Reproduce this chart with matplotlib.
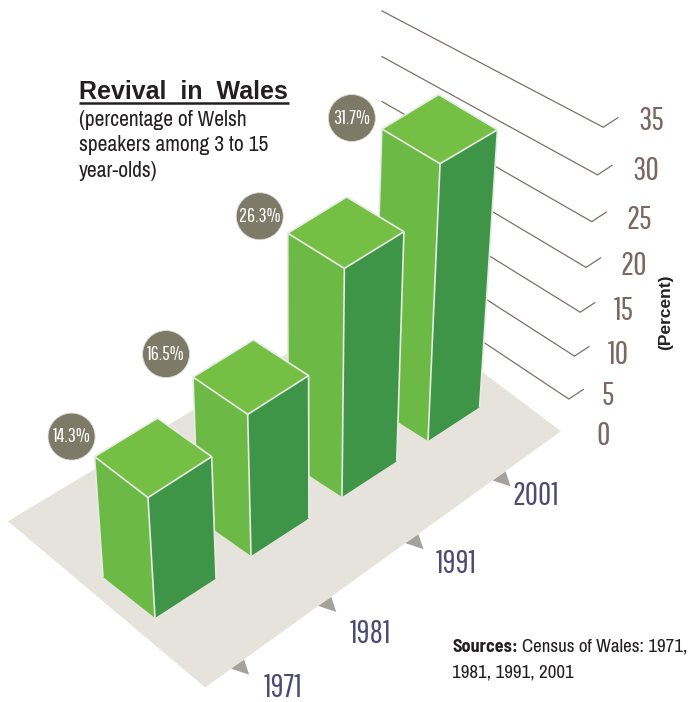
import matplotlib
matplotlib.use("Agg")
import matplotlib.pyplot as plt
from matplotlib.patches import Circle, Polygon

years = ["1971", "1981", "1991", "2001"]
percent = [14.3, 16.5, 26.3, 31.7]
value_ticks = [0, 5, 10, 15, 20, 25, 30, 35]

NUM_FONT = ["Pathway Gothic One", "Archivo Narrow", "Liberation Sans"]
BODY_FONT = ["Archivo Narrow", "Liberation Sans"]
BOLD_FONT = ["Barlow Semi Condensed", "Liberation Sans"]
plt.rcParams["font.family"] = BODY_FONT

BAR_WIDTH = 0.63  # along the year axis, in category units
EDGE = "#e8ebe4"
LABEL_OFFSETS = [(52, 16), (52, 25), (51, 18), (43, 13)]
BADGE_OFFSETS = [(-23, -20), (-27, -23), (-28, -17), (-30, -11)]


def project(u, d, z):
    """Year position u, depth d and height z to canvas pixels, with a hand-tuned perspective."""
    x = 155 + 98.5 * u - 2.5 * u ** 2
    y = 618 - 63.5 * u + 1.5 * u ** 2
    x += d * (-52 - 1.0 * u)
    y += d * (-41 + 4.5 * u - 0.8 * u ** 2)
    x += z * (-0.49 + 0.29 * u - 0.10 * d)
    y += z * -(8.42 + 0.19 * u - 0.027 * u ** 2)
    return x, y


def knee(v):
    return 563 + 1.15 * v, 441 - 8.3 * v - 0.019 * v ** 2


fig = plt.figure(figsize=(6.89, 7.02), dpi=100)
ax = fig.add_axes([0, 0, 1, 1])
ax.set_xlim(0, 689)
ax.set_ylim(702, 0)
ax.axis("off")

# floor plate
floor_bottom = project(-0.2, -1.35, 0)
floor_right = project(3.9, -1.07, 0)
floor = [floor_bottom, floor_right, project(4.1, 2.4, 0), project(-0.15, 2.55, 0)]
ax.add_patch(Polygon(floor, closed=True, fc="#e5e3dc", ec="none", zorder=1))

# back wall gridlines, each with a small return stroke at the right end
for v in value_ticks:
    x, y = knee(v)
    if v > 0:
        slope = 0.69 - 0.0047 * v
        ax.plot([382, x, x + 14.5], [y - slope * (x - 382), y, y - 9.5],
                color="#7f6f6a", lw=0.9, zorder=2, solid_joinstyle="miter")
    ax.text(596 + 1.2 * v, 433 - 7.8 * v - 0.034 * v ** 2, str(v), color="#7b6763",
            family=NUM_FONT, fontsize=23.5, ha="left", va="center_baseline")

ax.text(666, 312, "(Percent)", rotation=90, family=["Liberation Sans"], fontweight="bold",
        fontsize=12.5, color="#222222", ha="center", va="center")

# year markers along the front edge of the floor
for i, year in enumerate(years):
    t = 0.073 + 0.245 * i
    ax_x = floor_bottom[0] + t * (floor_right[0] - floor_bottom[0])
    ax_y = floor_bottom[1] + t * (floor_right[1] - floor_bottom[1])
    tri = [(ax_x, ax_y), (ax_x + 13, ax_y - 9), (ax_x + 18, ax_y + 6)]
    ax.add_patch(Polygon(tri, closed=True, fc="#a5a29d", ec="none", zorder=3))
    ax.text(ax_x + LABEL_OFFSETS[i][0], ax_y + LABEL_OFFSETS[i][1], year, color="#4f4a72",
            family=NUM_FONT, fontsize=23, ha="center", va="center_baseline")

# bars, back to front so the nearer ones overlap
for i in reversed(range(len(percent))):
    v = percent[i]
    u0, u1 = i, i + BAR_WIDTH
    left = [project(u0, 1, v), project(u0, 0, v), project(u0, 0, 0), project(u0, 1, 0)]
    right = [project(u0, 0, v), project(u1, 0, v), project(u1, 0, 0), project(u0, 0, 0)]
    top = [project(u0, 1, v), project(u1, 1, v), project(u1, 0, v), project(u0, 0, v)]
    zo = 10 + (len(percent) - i)
    for face, color in zip((left, right), ("#6cb946", "#3f9547")):
        ax.add_patch(Polygon(face, closed=True, fc=color, ec="none", zorder=zo))
    ax.add_patch(Polygon(top, closed=True, fc="#75bf44", ec=EDGE, lw=1.2, zorder=zo + 0.2,
                         joinstyle="miter"))
    # light verticals only, the bottom edges stay unstroked
    for d, u in ((1, u0), (0, u0), (0, u1)):
        xs, ys = zip(project(u, d, v), project(u, d, 0))
        ax.plot(xs, ys, color=EDGE, lw=1.2, zorder=zo + 0.1, solid_capstyle="butt")

    bx = left[0][0] + BADGE_OFFSETS[i][0]
    by = left[0][1] + BADGE_OFFSETS[i][1]
    ax.add_patch(Circle((bx, by), 23.5, fc="#7d7a67", ec="#dcdcd6", lw=0.6, zorder=20))
    ax.text(bx, by, f"{v}%", color="white", family=NUM_FONT, fontsize=14.5, ha="center",
            va="center", zorder=21)

# heading block
ax.text(79, 99, "Revival  in  Wales", family=["Liberation Sans"], fontweight="bold", fontsize=18,
        color="#231f20", ha="left", va="baseline")
ax.plot([79, 289], [102.5, 102.5], color="#231f20", lw=1.8, solid_capstyle="butt")
for y, line in zip((126, 151, 177), ("(percentage of Welsh", "speakers among 3 to 15", "year-olds)")):
    ax.text(79, y, line, color="#231f20", fontsize=15.5, ha="left", va="baseline")

# source note
src = ax.text(452, 652, "Sources:", family=BOLD_FONT, fontweight="bold", color="#231f20",
              fontsize=13, ha="left", va="baseline")
fig.canvas.draw()
bb = src.get_window_extent()
ax.text(bb.x1 + 4, 652, "Census of Wales: 1971,", color="#231f20", fontsize=13.7, ha="left", va="baseline")
ax.text(452, 678, "1981, 1991, 2001", color="#231f20", fontsize=13.7, ha="left", va="baseline")

fig.savefig("out.png", dpi=100)
